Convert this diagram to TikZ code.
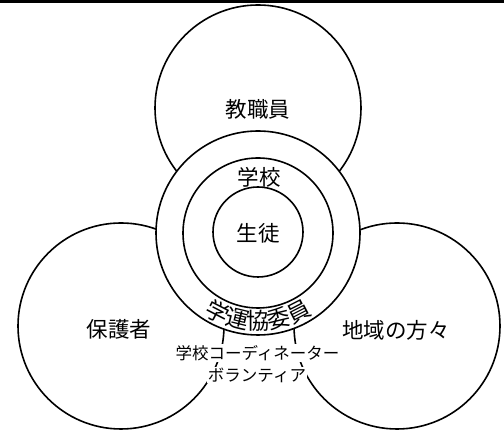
\documentclass[tikz,border=0pt]{standalone}
\usepackage{fontspec}
\newfontfamily\cjk{Noto Sans CJK JP}
\usetikzlibrary{decorations.text}
\begin{document}
\begin{tikzpicture}[x=1pt,y=1pt,
  circ/.style={draw=black,line width=1.6pt,fill=white},
  big/.style={font=\cjk\fontsize{21.5}{24}\selectfont,inner sep=0pt},
  small/.style={font=\cjk\fontsize{16.5}{18}\selectfont,inner sep=1pt,fill=white}]
\useasboundingbox (0,0) rectangle (504,430);
\fill[white] (0,0) rectangle (504,430);
\fill[black] (0,426.5) rectangle (504,430);
% outer circles
\draw[circ] (258,322) circle[radius=103];
\draw[circ] (121,104) circle[radius=103];
\draw[circ] (397,104) circle[radius=103];
% school rings
\draw[circ] (258,197) circle[radius=102];
\draw[circ] (258,197) circle[radius=75];
\draw[circ] (258,198) circle[radius=45];
\coordinate (c) at (258,197);
% labels
\node[big] (staff) at (258,321) {教職員};
\node[big] (school) at (259,253) {学校};
\node[big] (student) at (258,197) {生徒};
\node[big] (parent) at (119,101) {保護者};
\node[big] (local) at (396,100) {地域の方々};
\path[decorate,decoration={text along path,text align=center,
  text={|\cjk\fontsize{23}{23}\selectfont|学運協委員}}]
  (c) ++(225:97) arc[start angle=225,end angle=315,radius=97];
\node[small] (coord) at (257.5,77) {学校コーディネーター};
\node[small] (vol) at (257,55) {ボランティア};
\end{tikzpicture}
\end{document}
